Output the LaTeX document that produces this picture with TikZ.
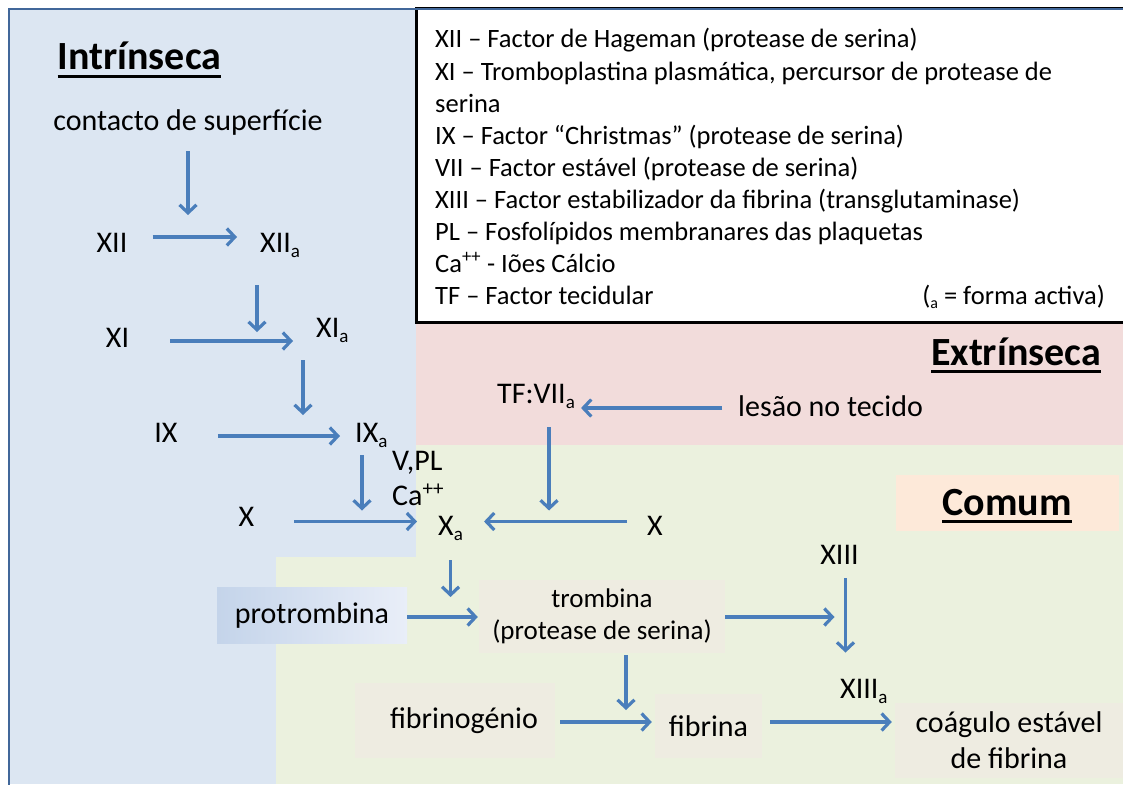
\documentclass[tikz,border=0pt]{standalone}
\usepackage{fontspec}
\setmainfont{Carlito}
\usepackage{xcolor}
\usepackage{tikz}
\usetikzlibrary{arrows.meta}
\usetikzlibrary{calc}

\definecolor{intrbg}{HTML}{DCE6F2}
\definecolor{extrbg}{HTML}{F2DCDB}
\definecolor{comumbg}{HTML}{EBF1DE}
\definecolor{peachbg}{HTML}{FDE9D9}
\definecolor{platebg}{HTML}{EEECE1}
\definecolor{arrowblue}{HTML}{4A7EBB}
\definecolor{framecol}{HTML}{41679A}
\definecolor{protleft}{HTML}{C4D4EA}
\definecolor{protmid}{HTML}{C4C7D0}
\definecolor{protright}{HTML}{E9EEF8}

\newcommand{\act}{\raisebox{-5pt}{\fontsize{19}{19}\selectfont a}}

\begin{document}
\begin{tikzpicture}[x=1pt,y=-1pt]
\tikzset{factor/.style={font=\fontsize{30}{36}\selectfont, inner sep=0pt, anchor=base}}
\tikzset{heading/.style={font=\fontsize{40}{48}\selectfont\bfseries, inner sep=0pt, anchor=base}}
\tikzset{legend/.style={font=\fontsize{26.5}{32}\selectfont, inner sep=0pt, anchor=base west}}
\tikzset{plate/.style={fill=platebg, inner sep=0pt, align=center, font=\fontsize{30}{36}\selectfont}}
\tikzset{flow/.style={draw=arrowblue, line width=3.2pt, -{Straight Barb[length=8pt,width=17pt]}}}
\tikzset{underbar/.style={line width=2.8pt}}

   \useasboundingbox (0,0) rectangle (1123,784);
   \clip (0,0) rectangle (1123,784);

   % the three pathways
   \fill[white] (0,0) rectangle (1123,784);
   \fill[intrbg] (9,9) rectangle (416,557);
   \fill[intrbg] (9,557) rectangle (276,784);
   \fill[extrbg] (416,322) rectangle (1123,445);
   \fill[comumbg] (416,445) rectangle (1123,784);
   \fill[comumbg] (276,557) rectangle (416,784);
   \fill[peachbg] (896,475) rectangle (1119,531);
   \draw[line width=3pt, fill=white] (416,9) rectangle (1130,322);
   \draw[framecol, line width=2.5pt] (1130,9) -- (9,9) -- (9,790);

   % legend
   \foreach \entry [count=\i] in {%
     {XII – Factor de Hageman (protease de serina)},%
     {XI – Tromboplastina plasmática, percursor de protease de},%
     {serina},%
     {IX – Factor “Christmas” (protease de serina)},%
     {VII – Factor estável (protease de serina)},%
     {XIII – Factor estabilizador da fibrina (transglutaminase)},%
     {PL – Fosfolípidos membranares das plaquetas},%
     {Ca\textsuperscript{++} - Iões Cálcio},%
     {TF – Factor tecidular}}
     \node[legend] (leg\i) at (435,{48+32*(\i-1)}) {\entry};
   \node[legend, anchor=base east] (activa) at (1105,304) {(\raisebox{-4pt}{\fontsize{16}{16}\selectfont a} = forma activa)};

   % headings
   \node[heading] (intr) at (139.5,70) {Intrínseca};
   \node[heading, anchor=base east] (extr) at (1101,365) {Extrínseca};
   \node[heading] (comum) at (1007,515) {Comum};
   \foreach \h in {intr,extr,comum}
     \draw[underbar] ([yshift=-6.5pt]\h.base west) -- ([yshift=-6.5pt]\h.base east);

   % rows of the arrows
   \coordinate (r1) at (0,237);
   \coordinate (r2) at (0,341);
   \coordinate (r3) at (0,436);
   \coordinate (r4) at (0,521.5);
   \coordinate (rtf) at (0,408);
   \coordinate (r5) at (0,617);
   \coordinate (r6) at (0,722);

   % intrinseca
   \node[factor] (contacto) at (188,130) {contacto de superfície};
   \node[factor] (xii) at (112,252) {XII};
   \node[factor, anchor=base west] (xiia) at (260,252) {XII\act};
   \node[factor] (xi) at (117.5,347) {XI};
   \node[factor, anchor=base west] (xia) at (316,337) {XI\act};
   \node[factor] (ix) at (166,442) {IX};
   \node[factor, anchor=base west] (ixa) at (355,442) {IX\act};
   \node[factor, anchor=base west] (vpl) at (392,470) {V,PL};
   \node[factor, anchor=base west] (ca) at (392,505) {Ca\textsuperscript{++}};
   \node[factor] (xl) at (246.5,526) {X};
   \node[factor, anchor=base west] (xa) at (438,535) {X\act};

   % extrinseca
   \node[factor, anchor=base west] (tf) at (497,403) {TF:VII\act};
   \node[factor, anchor=base west] (lesao) at (738,416) {lesão no tecido};
   \node[factor] (xr) at (655,535) {X};

   % comum
   \node[factor, anchor=center, minimum width=190pt, minimum height=56pt,
         left color=protleft, middle color=protmid, right color=protright] (protr) at (312,615) {protrombina};
   \node[plate, font=\fontsize{27}{32}\selectfont, minimum width=246pt, minimum height=73pt] (trom) at (602,616.5) {trombina\\(protease de serina)};
   \node[factor] (xiii) at (839.5,564) {XIII};
   \node[factor, anchor=base west] (xiiia) at (840,698) {XIII\act};
   \node[plate, minimum width=200pt, minimum height=75pt] (fibrinog) at (455,720.5) {\hspace*{18pt}fibrinogénio};
   \node[plate, minimum width=107pt, minimum height=64pt] (fibrina) at (708.5,726) {fibrina};
   \node[plate, minimum width=228pt, minimum height=75pt] (coag) at (1009,740.5) {coágulo estável\\de fibrina};

   \coordinate (k2) at ([xshift=-3pt]xiia.south west);
   \coordinate (k3) at ([xshift=-13pt]xia.south west);
   \coordinate (k4) at ([xshift=7pt]ixa.south west);
   \coordinate (k5) at ([xshift=13pt]tf.south);
   \coordinate (k6) at ([xshift=6pt]xiii.south);
   \coordinate (k7) at ([xshift=24pt]trom.south);

   \draw[flow, shorten <=16pt, shorten >=22pt] (contacto.south) -- (contacto.south |- r1);
   \draw[flow, shorten <=25pt, shorten >=23pt] (xii.east |- r1) -- (xiia.west |- r1);
   \draw[flow, shorten <=28pt, shorten >=9pt] (k2) -- (k2 |- r2);
   \draw[flow, shorten <=41pt, shorten >=23pt] (xi.east |- r2) -- (xia.west |- r2);
   \draw[flow, shorten <=18pt, shorten >=21pt] (k3) -- (k3 |- r3);
   \draw[flow, shorten <=40pt, shorten >=15pt] (ix.east |- r3) -- (ixa.west |- r3);
   \draw[flow, shorten <=8pt, shorten >=11pt] (k4) -- (k4 |- r4);
   \draw[flow, shorten <=40pt, shorten >=21pt] (xl.east |- r4) -- (xa.west |- r4);
   \draw[flow, shorten <=16pt, shorten >=6pt] (lesao.west |- rtf) -- (tf.east |- rtf);
   \draw[flow, shorten <=19pt, shorten >=11pt] (k5) -- (k5 |- r4);
   \draw[flow, shorten <=20pt, shorten >=21pt] (xr.west |- r4) -- (xa.east |- r4);
   \draw[flow, shorten <=20pt, shorten >=20pt] (xa.south) -- (xa.south |- r5);
   \draw[flow, shorten >=1pt] (protr.east |- r5) -- (trom.west |- r5);
   \draw[flow, shorten >=5pt] (trom.east |- r5) -- (xiii.south |- r5);
   \draw[flow, shorten <=14pt, shorten >=26pt] (k6) -- (k6 |- xiiia.north);
   \draw[flow, shorten <=2pt, shorten >=12pt] (k7) -- (k7 |- r6);
   \draw[flow, shorten <=5pt, shorten >=3pt] (fibrinog.east |- r6) -- (fibrina.west |- r6);
   \draw[flow, shorten <=8pt, shorten >=3pt] (fibrina.east |- r6) -- (coag.west |- r6);
\end{tikzpicture}
\end{document}
